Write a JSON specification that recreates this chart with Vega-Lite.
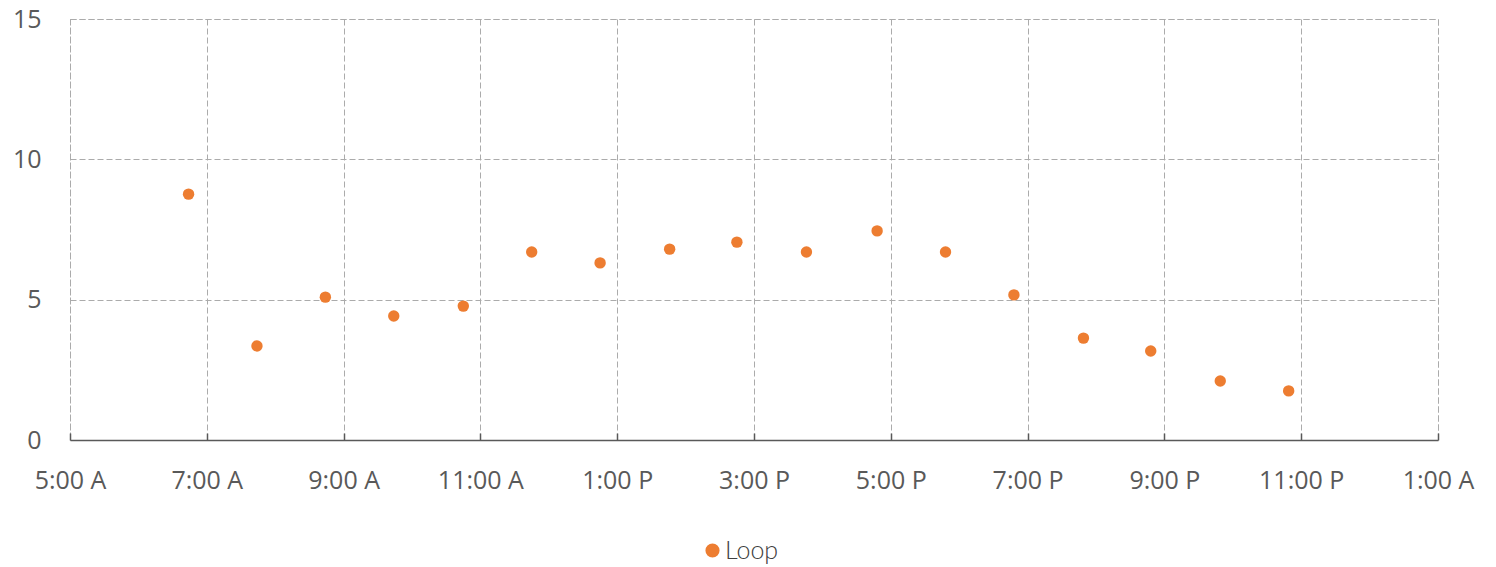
{
  "$schema": "https://vega.github.io/schema/vega-lite/v6.json",
  "width": 1368,
  "height": 421,
  "autosize": {"type": "none"},
  "padding": {"left": 70, "top": 19, "right": 58, "bottom": 127},
  "background": "#ffffff",
  "data": {
    "values": [
      {"time": "2024-01-01T06:44:00", "value": 8.76, "series": "Loop"},
      {"time": "2024-01-01T07:44:00", "value": 3.35, "series": "Loop"},
      {"time": "2024-01-01T08:44:00", "value": 5.09, "series": "Loop"},
      {"time": "2024-01-01T09:44:00", "value": 4.42, "series": "Loop"},
      {"time": "2024-01-01T10:45:00", "value": 4.77, "series": "Loop"},
      {"time": "2024-01-01T11:45:00", "value": 6.7, "series": "Loop"},
      {"time": "2024-01-01T12:45:00", "value": 6.31, "series": "Loop"},
      {"time": "2024-01-01T13:46:00", "value": 6.8, "series": "Loop"},
      {"time": "2024-01-01T14:45:00", "value": 7.05, "series": "Loop"},
      {"time": "2024-01-01T15:46:00", "value": 6.7, "series": "Loop"},
      {"time": "2024-01-01T16:48:00", "value": 7.45, "series": "Loop"},
      {"time": "2024-01-01T17:48:00", "value": 6.7, "series": "Loop"},
      {"time": "2024-01-01T18:48:00", "value": 5.17, "series": "Loop"},
      {"time": "2024-01-01T19:49:00", "value": 3.63, "series": "Loop"},
      {"time": "2024-01-01T20:48:00", "value": 3.17, "series": "Loop"},
      {"time": "2024-01-01T21:49:00", "value": 2.1, "series": "Loop"},
      {"time": "2024-01-01T22:49:00", "value": 1.75, "series": "Loop"}
    ]
  },
  "mark": {"type": "circle", "size": 130, "opacity": 1},
  "encoding": {
    "x": {
      "field": "time",
      "type": "temporal",
      "scale": {
        "domain": [
          {"year": 2024, "month": 1, "date": 1, "hours": 5},
          {"year": 2024, "month": 1, "date": 2, "hours": 1}
        ],
        "nice": false
      },
      "axis": {
        "title": null,
        "values": [
          {"year": 2024, "month": 1, "date": 1, "hours": 5},
          {"year": 2024, "month": 1, "date": 1, "hours": 7},
          {"year": 2024, "month": 1, "date": 1, "hours": 9},
          {"year": 2024, "month": 1, "date": 1, "hours": 11},
          {"year": 2024, "month": 1, "date": 1, "hours": 13},
          {"year": 2024, "month": 1, "date": 1, "hours": 15},
          {"year": 2024, "month": 1, "date": 1, "hours": 17},
          {"year": 2024, "month": 1, "date": 1, "hours": 19},
          {"year": 2024, "month": 1, "date": 1, "hours": 21},
          {"year": 2024, "month": 1, "date": 1, "hours": 23},
          {"year": 2024, "month": 1, "date": 2, "hours": 1}
        ],
        "labelExpr": "timeFormat(datum.value, '%-I:%M') + ' ' + slice(timeFormat(datum.value, '%p'), 0, 1)",
        "labelFont": "Open Sans",
        "labelFontSize": 25,
        "labelColor": "#595959",
        "labelPadding": 35,
        "labelFlush": false,
        "labelOverlap": false,
        "domain": true,
        "domainColor": "#595959",
        "domainWidth": 1.5,
        "ticks": true,
        "tickSize": -7,
        "tickColor": "#595959",
        "tickWidth": 1.5,
        "grid": true,
        "gridColor": "#ababab",
        "gridDash": [6, 3],
        "gridWidth": 1
      }
    },
    "y": {
      "field": "value",
      "type": "quantitative",
      "scale": {"domain": [0, 15], "nice": false},
      "axis": {
        "title": null,
        "values": [0, 5, 10, 15],
        "labelFont": "Open Sans",
        "labelFontSize": 25,
        "labelColor": "#595959",
        "labelPadding": 29,
        "labelAlign": "right",
        "labelBaseline": "middle",
        "domain": false,
        "ticks": false,
        "grid": true,
        "gridColor": "#ababab",
        "gridDash": [6, 3],
        "gridWidth": 1
      }
    },
    "color": {
      "field": "series",
      "type": "nominal",
      "scale": {"range": ["#ED7D31"]},
      "legend": {
        "title": null,
        "orient": "none",
        "legendX": 630,
        "legendY": 519,
        "direction": "horizontal",
        "symbolType": "circle",
        "symbolSize": 200,
        "symbolStrokeWidth": 0,
        "symbolOpacity": 1,
        "labelFont": "Lato",
        "labelFontWeight": 300,
        "labelFontSize": 25,
        "labelColor": "#404040",
        "labelOffset": 0
      }
    }
  },
  "config": {
    "view": {"stroke": "#ababab", "strokeDash": [6, 3], "strokeWidth": 1}
  }
}
